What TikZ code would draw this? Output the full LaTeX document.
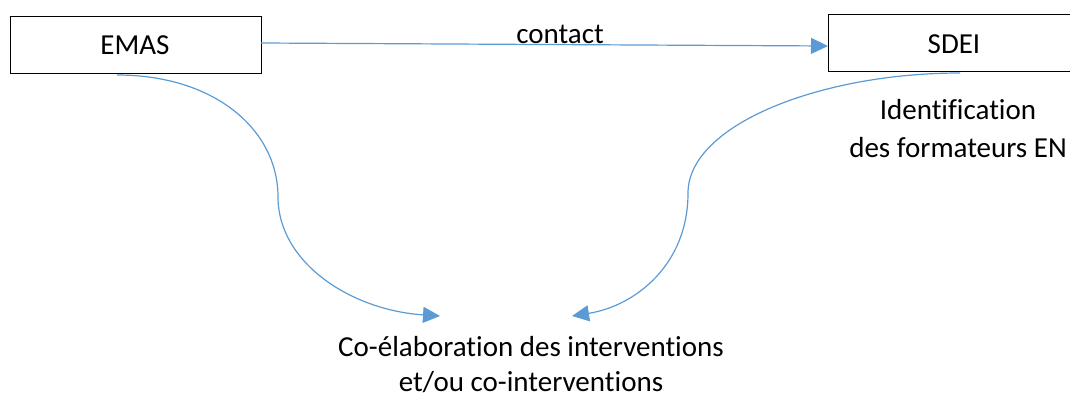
\documentclass[tikz,border=0pt]{standalone}
\usepackage{fontspec}
\setmainfont{Carlito}[Ligatures=NoCommon]
\usetikzlibrary{arrows.meta}
\definecolor{conn}{HTML}{5B9BD5}
\tikzset{
  box/.style={draw=black, line width=1.4pt, minimum width=251pt, minimum height=57pt, inner sep=0pt, anchor=north west},
  lbl/.style={font=\fontsize{29}{37}\selectfont, inner sep=0pt, anchor=base},
  conn/.style={draw=conn, line width=1.2pt, -{Triangle[length=17pt,width=16pt]}}
}
\begin{document}
\begin{tikzpicture}[x=1pt,y=-1pt]
\useasboundingbox (0,0) rectangle (1070,399);
\node[box] (emas) at (10,16) {};
\node[box] (sdei) at (828,14) {};
\node[lbl] (emast) at (135,54) {EMAS};
\node[lbl] (sdeit) at (954,53) {SDEI};
\node[lbl] (contact) at (560,43) {contact};
\node[lbl] (ident1) at (958,119) {Identification};
\node[lbl] (ident2) at (958,157) {des formateurs EN};
\node[lbl] (coel1) at (531,356) {Co-élaboration des interventions};
\node[lbl] (coel2) at (531,391) {et/ou co-interventions};
\coordinate (a1) at (261,43);
\coordinate (a2) at (828,46);
\coordinate (l0) at (117,75);
\coordinate (l1) at (278,197);
\coordinate (l2) at (440,316);
\coordinate (r0) at (960,73);
\coordinate (r1) at (688,193);
\coordinate (r2) at (572,316);
\draw[conn] (a1) -- (a2);
\draw[conn] (l0) .. controls (215,75) and (278,130) .. (l1)
  .. controls (278,262) and (350,310) .. (l2);
\draw[conn] (r0) .. controls (820,73) and (688,125) .. (r1)
  .. controls (688,265) and (635,306) .. (r2);
\end{tikzpicture}
\end{document}
